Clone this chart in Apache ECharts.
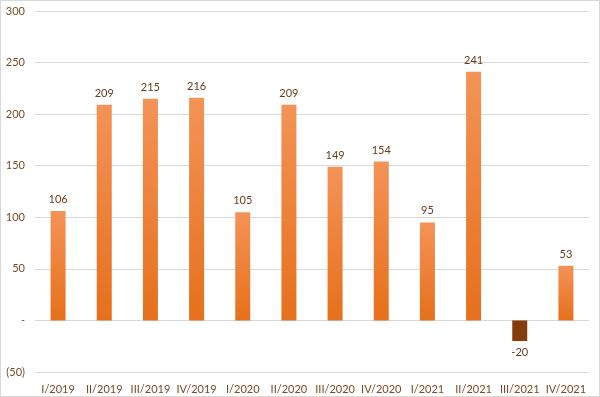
<!DOCTYPE html>
<html>
<head>
<meta charset="utf-8">
<script src="https://cdn.jsdelivr.net/npm/echarts@6/dist/echarts.min.js"></script>
<style>
  html, body { margin: 0; padding: 0; background: #fff; }
  #chart { width: 598px; height: 395px; border: 1px solid #d9d9d9; }
</style>
</head>
<body>
<div id="chart"></div>
<script>
var quarters = ['I/2019', 'II/2019', 'III/2019', 'IV/2019', 'I/2020', 'II/2020',
  'III/2020', 'IV/2020', 'I/2021', 'II/2021', 'III/2021', 'IV/2021'];
var values = [106, 209, 215, 216, 105, 209, 149, 154, 95, 241, -20, 53];

var orange = new echarts.graphic.LinearGradient(0, 0, 0, 1, [
  { offset: 0, color: '#f39357' },
  { offset: 1, color: '#e6701c' }
]);
var brown = '#843c0c';

var chart = echarts.init(document.getElementById('chart'));
chart.setOption({
  animation: false,
  textStyle: { fontFamily: 'Lato' },
  grid: { left: 34, right: 10, top: 10, bottom: 24 },
  xAxis: {
    type: 'category',
    data: quarters,
    axisLine: { show: false },
    axisTick: { show: false },
    axisLabel: { color: '#7a4a28', fontSize: 11, margin: 12, interval: 0 }
  },
  yAxis: {
    type: 'value',
    min: -50,
    max: 300,
    interval: 50,
    axisLabel: {
      color: '#7a4a28',
      fontSize: 11,
      margin: 10,
      formatter: function (v) {
        if (v === 0) return '-';
        if (v < 0) return '(' + Math.abs(v) + ')';
        return v;
      }
    },
    splitLine: { lineStyle: { color: '#d9d9d9' } }
  },
  series: [{
    type: 'bar',
    barWidth: 15,
    data: values.map(function (v) {
      return {
        value: v,
        itemStyle: { color: v < 0 ? brown : orange },
        label: { position: v < 0 ? 'bottom' : 'top' }
      };
    }),
    label: {
      show: true,
      color: '#6b3a1a',
      fontSize: 11,
      distance: 6
    }
  }]
});
</script>
</body>
</html>
